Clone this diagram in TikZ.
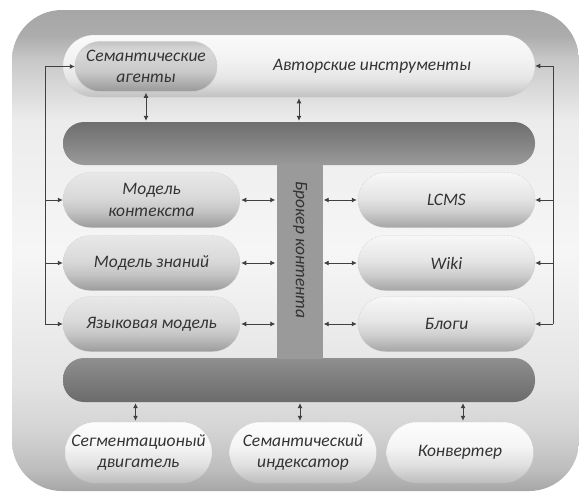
\documentclass[tikz,border=0pt]{standalone}
\usepackage{fontspec}
\setmainfont{Carlito}
\usetikzlibrary{arrows.meta}
\definecolor{o0}{HTML}{A6A6A6}
\definecolor{o1}{HTML}{BDBDBD}
\definecolor{o2}{HTML}{D4D4D4}
\definecolor{o3}{HTML}{E4E4E4}
\definecolor{o4}{HTML}{F6F6F6}
\definecolor{o5}{HTML}{ECECEC}
\definecolor{o6}{HTML}{C8C8C8}
\definecolor{o7}{HTML}{ACACAC}
\definecolor{txtc}{HTML}{333333}
\definecolor{lnc}{HTML}{404040}
\definecolor{stemc}{HTML}{9A9A9A}
\pgfdeclareverticalshading{outersh}{100bp}{color(0bp)=(o0); color(25bp)=(o0); color(27.2bp)=(o1); color(31.35bp)=(o2); color(36.5bp)=(o3); color(50bp)=(o4); color(63.5bp)=(o5); color(69.8bp)=(o6); color(72.4bp)=(o7); color(75bp)=(o0); color(100bp)=(o0)}
\pgfdeclareverticalshading{pillR}{100bp}{color(0bp)=(black!35); color(25bp)=(black!35); color(40bp)=(black!19); color(52.5bp)=(black!10); color(75bp)=(black!3); color(100bp)=(black!3)}
\pgfdeclareverticalshading{pillL}{100bp}{color(0bp)=(black!39); color(25bp)=(black!39); color(40bp)=(black!23); color(52bp)=(black!15); color(75bp)=(black!9); color(100bp)=(black!9)}
\pgfdeclareverticalshading{semsh}{100bp}{color(0bp)=(black!40); color(25bp)=(black!40); color(45bp)=(black!21); color(65bp)=(black!15); color(75bp)=(black!23); color(100bp)=(black!23)}
\pgfdeclareverticalshading{authsh}{100bp}{color(0bp)=(black!24); color(25bp)=(black!24); color(40bp)=(black!10); color(55bp)=(black!5); color(75bp)=(black!2); color(100bp)=(black!2)}
\pgfdeclareverticalshading{botsh}{100bp}{color(0bp)=(black!26); color(25bp)=(black!26); color(40bp)=(black!12); color(55bp)=(black!4); color(75bp)=(black!1); color(100bp)=(black!1)}
\pgfdeclareverticalshading{barT}{100bp}{color(0bp)=(stemc); color(25bp)=(stemc); color(75bp)=(black!57); color(100bp)=(black!57)}
\pgfdeclareverticalshading{barB}{100bp}{color(0bp)=(black!58); color(25bp)=(black!58); color(75bp)=(black!44); color(100bp)=(black!44)}
\tikzset{
  lbl/.style={font=\itshape\fontsize{17.5}{21.5}\selectfont, text=txtc, align=center},
  pill/.style={lbl, draw=black!22, densely dotted, line width=0.5pt, inner sep=2pt},
  midpill/.style={pill, minimum width=177pt, minimum height=55pt, rounded corners=27.5pt},
  botpill/.style={pill, shading=botsh, minimum width=147pt, minimum height=61pt, rounded corners=30.5pt},
  bar/.style={draw=none, inner sep=0pt},
  ln/.style={draw=lnc, line width=0.8pt},
  tip/.tip={Latex[length=5pt,width=5pt]},
  dbl/.style={ln, tip-tip, shorten >=1pt, shorten <=1pt},
  one/.style={ln, -tip}
}
\begin{document}
\begin{tikzpicture}[x=1pt,y=-1pt]
\useasboundingbox (0,0) rectangle (579,493);
\path[shading=outersh, rounded corners=50pt] (12,10) rectangle (579,491);

% top authoring bar
\node[pill, shading=authsh, minimum width=472pt, minimum height=62pt, rounded corners=31pt] (auth) at (299,66) {};
\node[pill, shading=semsh, draw=white!80!black, solid, minimum width=142pt, minimum height=50pt, rounded corners=25pt] (sem) at (146,66.5) {Семантические\\агенты};
\node[lbl] (authtxt) at (372,66) {Авторские инструменты};

% T-shaped broker
\node[bar, shading=barT, minimum width=472pt, minimum height=43pt, rounded corners=21pt] (topbar) at (299,143.5) {};
\node[bar, shading=barB, minimum width=472pt, minimum height=44pt, rounded corners=21pt] (botbar) at (299,380) {};
\node[bar, fill=stemc, minimum width=46pt, minimum height=194pt] (stem) at (299.5,261.5) {};
\node[lbl, rotate=-90] (brk) at (300,250) {Брокер контента};

% left models
\node[midpill, shading=pillL] (mk) at (151.5,200) {Модель\\контекста};
\node[midpill, shading=pillL] (mz) at (151.5,263) {Модель знаний};
\node[midpill, shading=pillL] (ym) at (151.5,324) {Языковая модель};

% right repositories
\node[midpill, shading=pillR] (lcms) at (446.5,200) {LCMS};
\node[midpill, shading=pillR] (wiki) at (446.5,263) {Wiki};
\node[midpill, shading=pillR] (blog) at (446.5,324) {Блоги};

% bottom services
\node[botpill] (seg) at (138.5,452.5) {Сегментационый\\двигатель};
\node[botpill] (idx) at (303,452.5) {Семантический\\индексатор};
\node[botpill] (conv) at (460,452.5) {Конвертер};

% vertical double arrows
\draw[dbl] (sem.south) -- (sem.south |- topbar.north);
\draw[dbl] (auth.south) -- (auth.south |- topbar.north);
\draw[dbl] ([xshift=-3pt]seg.north |- botbar.south) -- ([xshift=-3pt]seg.north);
\draw[dbl] ([xshift=-3pt]idx.north |- botbar.south) -- ([xshift=-3pt]idx.north);
\draw[dbl] ([xshift=3pt]conv.north |- botbar.south) -- ([xshift=3pt]conv.north);

% horizontal double arrows to broker
\draw[dbl] (mk.east) -- (mk.east -| stem.west);
\draw[dbl] (mz.east) -- (mz.east -| stem.west);
\draw[dbl] (ym.east) -- (ym.east -| stem.west);
\draw[dbl] (lcms.west -| stem.east) -- (lcms.west);
\draw[dbl] (wiki.west -| stem.east) -- (wiki.west);
\draw[dbl] (blog.west -| stem.east) -- (blog.west);

% feedback lines
\coordinate (lx) at (45,0);
\coordinate (rx) at (553,0);
\draw[ln] (sem.west -| lx) -- (ym.west -| lx);
\draw[one] (sem.west -| lx) -- (sem.west);
\draw[one] (mk.west -| lx) -- (mk.west);
\draw[one] (mz.west -| lx) -- (mz.west);
\draw[one] (ym.west -| lx) -- (ym.west);
\draw[ln] (auth.east -| rx) -- (blog.east -| rx);
\draw[one] (auth.east -| rx) -- (auth.east);
\draw[one] (lcms.east -| rx) -- (lcms.east);
\draw[one] (wiki.east -| rx) -- (wiki.east);
\draw[one] (blog.east -| rx) -- (blog.east);
\end{tikzpicture}
\end{document}
